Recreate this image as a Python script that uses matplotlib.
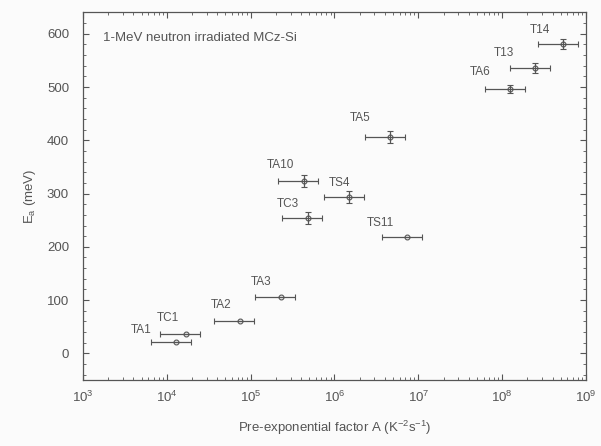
import numpy as np
import matplotlib
matplotlib.use('Agg')
import matplotlib.pyplot as plt
from matplotlib.ticker import MultipleLocator, FixedLocator, NullFormatter

# defect levels: pre-exponential factor A and activation energy Ea
names = ['TA1', 'TC1', 'TA2', 'TA3', 'TA10', 'TC3', 'TS4', 'TA5', 'TS11', 'TA6', 'T13', 'T14']
A = [1.3e4, 1.68e4, 7.4e4, 2.28e5, 4.3e5, 4.8e5, 1.5e6, 4.6e6, 7.3e6, 1.24e8, 2.47e8, 5.3e8]
Ea = [22, 36, 61, 105, 324, 254, 293, 406, 218, 496, 536, 581]
Ea_err = [0, 0, 0, 0, 11, 11, 11, 11, 0, 8, 10, 10]
A_rel_err = 0.5  # +-50 %

# label offsets in pixels (dx, dy) from each point
lab_dx = [-35, -18, -19, -20, -23, -20, -10, -30, -26, -30, -31, -23]
lab_dy = [12, 16, 16, 15, 16, 14, 14, 19, 14, 17, 15, 14]

col = '#555555'
plt.rcParams['font.family'] = ['Liberation Sans', 'DejaVu Sans']
plt.rcParams['mathtext.fontset'] = 'custom'
plt.rcParams['mathtext.rm'] = 'Liberation Sans'
plt.rcParams['mathtext.it'] = 'Liberation Sans:italic'
plt.rcParams['mathtext.default'] = 'regular'
plt.rcParams['font.size'] = 8

fig = plt.figure(figsize=(6.01, 4.46), dpi=100)
fig.patch.set_facecolor('#fbfbfb')
ax = fig.add_axes([0.138, 0.148, 0.837, 0.824])
ax.set_facecolor('#fbfbfb')

A_arr = np.array(A)
xerr = [A_arr * A_rel_err, A_arr * A_rel_err]
ax.errorbar(A, Ea, xerr=xerr, yerr=Ea_err, fmt='o', ms=3.5, mfc='none', mec=col,
            ecolor=col, elinewidth=0.9, capsize=2.5, capthick=0.9, mew=0.8)

for n, x, y, dx, dy in zip(names, A, Ea, lab_dx, lab_dy):
    ax.annotate(n, (x, y), xytext=(dx, dy), textcoords='offset pixels',
                ha='center', va='center', fontsize=8.5, color=col)

ax.set_xscale('log')
ax.set_xlim(1e3, 1e9)
ax.set_ylim(-50, 640)
decades = [10.0 ** k for k in range(3, 10)]
ax.xaxis.set_major_locator(FixedLocator(decades))
ax.xaxis.set_minor_locator(FixedLocator([m * d for d in decades[:-1] for m in range(2, 10)]))
ax.xaxis.set_minor_formatter(NullFormatter())
ax.set_xticklabels(['10$^{%d}$' % k for k in range(3, 10)])
ax.yaxis.set_major_locator(FixedLocator(range(0, 601, 100)))
ax.yaxis.set_minor_locator(FixedLocator(range(-40, 641, 20)))

ax.tick_params(which='both', direction='in', top=True, right=True, colors=col, labelsize=9.5)
ax.tick_params(which='major', length=4)
ax.tick_params(which='minor', length=2)
ax.tick_params(axis='x', pad=7)
ax.tick_params(axis='y', pad=10)
for s in ax.spines.values():
    s.set_color(col)
    s.set_linewidth(0.9)

ax.text(0.04, 0.93, '1-MeV neutron irradiated MCz-Si', transform=ax.transAxes,
        fontsize=9.5, color=col, va='center')
ax.set_xlabel('Pre-exponential factor A (K$^{-2}$s$^{-1}$)', color=col, fontsize=9.5, labelpad=10)
ax.set_ylabel('E$_a$ (meV)', color=col, fontsize=9.5, labelpad=6)

fig.savefig('out.png', dpi=100, facecolor=fig.get_facecolor())
